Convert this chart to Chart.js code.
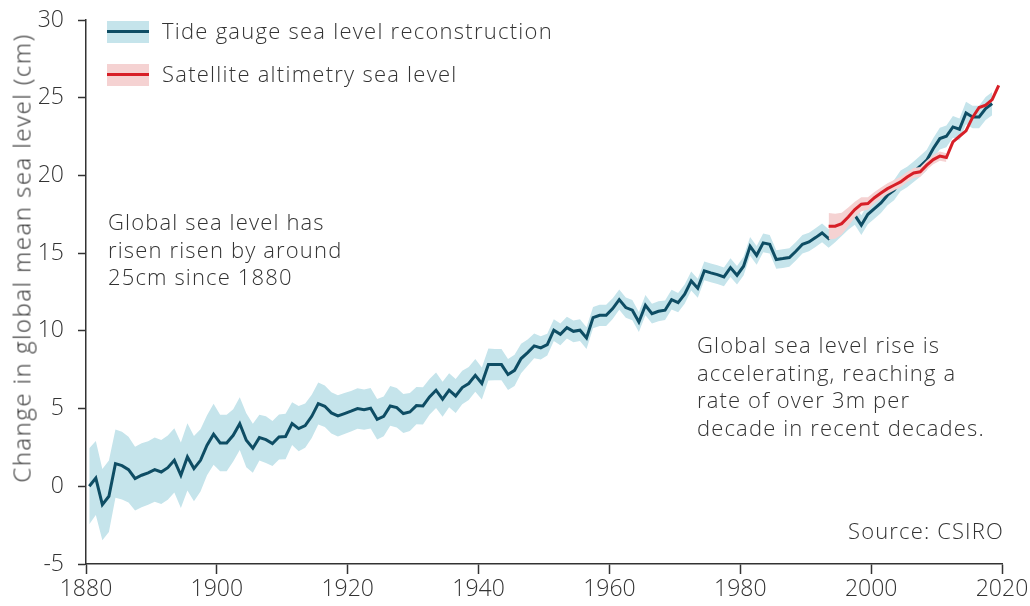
<!DOCTYPE html>
<html lang="en">
<head>
    <meta charset="UTF-8">
    <title>Global mean sea level</title>
    <script src="https://cdn.jsdelivr.net/npm/chart.js"></script>
    <style>
        body {
            margin: 0;
            background: #fff;
            font-family: "Open Sans", "Lato", sans-serif;
            font-weight: 300;
            color: #333;
        }

        #wrap {
            position: relative;
            width: 1030px;
            height: 606px;
        }

        .note {
            position: absolute;
            font-size: 22px;
            line-height: 27.5px;
            letter-spacing: 1.15px;
            white-space: nowrap;
        }

        #ytitle {
            position: absolute;
            left: 21px;
            top: 258px;
            font-size: 24px;
            letter-spacing: 1.5px;
            white-space: nowrap;
            transform: translate(-50%, -50%) rotate(-90deg);
        }

        .key {
            position: absolute;
            left: 107px;
            width: 42px;
            height: 22px;
        }

        .key span {
            position: absolute;
            left: 0;
            right: 0;
            top: 9px;
            height: 3px;
        }

        .keytext {
            position: absolute;
            left: 162px;
            font-size: 22px;
            letter-spacing: 1.25px;
            white-space: nowrap;
        }
    </style>
</head>
<body>
<div id="wrap">
    <canvas id="seaChart" width="1030" height="606"></canvas>

    <div id="ytitle">Change in global mean sea level (cm)</div>

    <div class="key" style="top:21px;background:#c5e4eb"><span style="background:#0e4d64"></span></div>
    <div class="keytext" style="top:15px">Tide gauge sea level reconstruction</div>
    <div class="key" style="top:64px;background:#f5d2d2"><span style="background:#d71f27"></span></div>
    <div class="keytext" style="top:58px">Satellite altimetry sea level</div>

    <div class="note" style="left:108px;top:208px">Global sea level has<br>risen risen by around<br>25cm since 1880</div>
    <div class="note" style="left:697px;top:331px">Global sea level rise is<br>accelerating, reaching a<br>rate of over 3m per<br>decade in recent decades.</div>
    <div class="note" style="right:26px;top:517px">Source: CSIRO</div>
</div>

<script>
    // tide gauge reconstruction, yearly from 1880.5 to 2018.5 (cm)
    const tideStart = 1880.5;
    const tideLevel = [
        0.0, 0.53, -1.18, -0.64, 1.46, 1.33, 1.07, 0.5, 0.71, 0.86,
        1.07, 0.92, 1.2, 1.67, 0.71, 1.89, 1.14, 1.67, 2.64, 3.35,
        2.79, 2.79, 3.28, 4.03, 2.96, 2.45, 3.13, 3.0, 2.75, 3.17,
        3.2, 4.03, 3.71, 3.9, 4.5, 5.32, 5.15, 4.72, 4.53, 4.68,
        4.83, 5.0, 4.93, 5.02, 4.31, 4.5, 5.17, 5.06, 4.68, 4.78,
        5.19, 5.17, 5.75, 6.18, 5.6, 6.18, 5.81, 6.35, 6.61, 7.14,
        6.61, 7.83, 7.83, 7.83, 7.19, 7.46, 8.22, 8.6, 9.03, 8.9,
        9.12, 10.04, 9.78, 10.21, 9.97, 10.04, 9.54, 10.85, 11.0, 11.0,
        11.43, 12.01, 11.5, 11.33, 10.57, 11.65, 11.11, 11.26, 11.33, 12.01,
        11.82, 12.36, 13.21, 12.74, 13.86, 13.73, 13.62, 13.47, 14.07, 13.58,
        14.16, 15.44, 14.86, 15.66, 15.57, 14.59, 14.65, 14.72, 15.12, 15.57,
        15.72, 16.0, 16.3, 15.94, 16.3, 16.7, 17.1, 17.45, 16.8, 17.5,
        17.87, 18.23, 18.73, 19.05, 19.65, 19.9, 20.23, 20.59, 20.98, 21.73,
        22.37, 22.52, 23.12, 22.97, 24.02, 23.76, 23.76, 24.3, 24.62
    ];
    // half width of the shaded uncertainty band (cm)
    const tideError = [
        2.44, 2.38, 2.3, 2.3, 2.2, 2.18, 2.12, 2.05, 2.06, 2.04,
        2.07, 2.06, 2.07, 2.07, 2.1, 2.16, 2.1, 2.0, 1.93, 1.96,
        1.82, 1.82, 1.68, 1.7, 1.74, 1.58, 1.47, 1.5, 1.45, 1.45,
        1.46, 1.38, 1.45, 1.42, 1.39, 1.35, 1.33, 1.33, 1.33, 1.32,
        1.3, 1.3, 1.3, 1.3, 1.3, 1.28, 1.28, 1.27, 1.25, 1.22,
        1.2, 1.2, 1.15, 1.14, 1.12, 1.1, 1.1, 1.08, 1.06, 1.05,
        1.03, 1.03, 1.0, 1.0, 1.0, 1.0, 0.95, 0.85, 0.8, 0.75,
        0.7, 0.7, 0.7, 0.7, 0.7, 0.7, 0.7, 0.69, 0.68, 0.68,
        0.66, 0.65, 0.65, 0.65, 0.65, 0.65, 0.64, 0.64, 0.63, 0.63,
        0.62, 0.62, 0.61, 0.61, 0.6, 0.6, 0.6, 0.6, 0.6, 0.6,
        0.6, 0.6, 0.6, 0.6, 0.6, 0.6, 0.6, 0.6, 0.6, 0.6,
        0.6, 0.6, 0.6, 0.6, 0.6, 0.6, 0.6, 0.62, 0.64, 0.64,
        0.65, 0.65, 0.65, 0.65, 0.66, 0.66, 0.66, 0.67, 0.67, 0.68,
        0.7, 0.7, 0.7, 0.7, 0.72, 0.72, 0.72, 0.74, 0.75
    ];

    // satellite altimetry, yearly from 1993.5 to 2019.5 (cm)
    const satStart = 1993.5;
    const satLevel = [
        16.73, 16.73, 16.9, 17.33, 17.8, 18.15, 18.19, 18.57, 18.87, 19.15,
        19.37, 19.58, 19.9, 20.16, 20.23, 20.66, 21.02, 21.24, 21.15, 22.16,
        22.52, 22.87, 23.73, 24.37, 24.52, 24.88, 25.8
    ];
    // band only shown up to 2011.5
    const satError = [
        0.85, 0.8, 0.7, 0.6, 0.5, 0.45, 0.4, 0.36, 0.35, 0.35,
        0.34, 0.33, 0.32, 0.32, 0.31, 0.3, 0.3, 0.3, 0.28
    ];

    const yearTicks = [1880, 1900, 1920, 1940, 1960, 1980, 2000, 2020];
    const levelTicks = [-5, 0, 5, 10, 15, 20, 25, 30];

    const tideLine = tideLevel.map((v, i) => ({x: tideStart + i, y: v}));
    const tideHigh = tideLevel.map((v, i) => ({x: tideStart + i, y: v + tideError[i]}));
    const tideLow = tideLevel.map((v, i) => ({x: tideStart + i, y: v - tideError[i]}));
    const satLine = satLevel.map((v, i) => ({x: satStart + i, y: v}));
    const satHigh = satError.map((e, i) => ({x: satStart + i, y: satLevel[i] + e}));
    const satLow = satError.map((e, i) => ({x: satStart + i, y: satLevel[i] - e}));

    const textColor = '#333';
    const tickFont = {family: 'Open Sans', size: 23, weight: '300'};
    const band = {pointRadius: 0, borderWidth: 0, tension: 0};

    new Chart(document.getElementById('seaChart'), {
        type: 'line',
        data: {
            datasets: [
                Object.assign({data: tideHigh, fill: '+1', backgroundColor: '#c5e4eb', order: 4}, band),
                Object.assign({data: tideLow, fill: false, order: 4}, band),
                {data: tideLine, borderColor: '#0e4d64', borderWidth: 3, pointRadius: 0, fill: false, order: 3},
                Object.assign({data: satHigh, fill: '+1', backgroundColor: '#f5d2d2', order: 2}, band),
                Object.assign({data: satLow, fill: false, order: 2}, band),
                {data: satLine, borderColor: '#d71f27', borderWidth: 3, pointRadius: 0, fill: false, order: 1}
            ]
        },
        options: {
            responsive: false,
            animation: false,
            layout: {padding: {top: 20, right: 28, left: 0, bottom: 0}},
            plugins: {legend: {display: false}, tooltip: {enabled: false}},
            scales: {
                x: {
                    type: 'linear',
                    min: 1880,
                    max: 2020,
                    afterBuildTicks: s => { s.ticks = yearTicks.map(v => ({value: v})); },
                    afterFit: s => { s.height = 42; s.paddingLeft = 0; s.paddingRight = 0; },
                    grid: {drawOnChartArea: false, tickLength: 10, color: textColor, tickWidth: 1.5},
                    border: {color: textColor, width: 1.5},
                    ticks: {
                        color: textColor, padding: 2,
                        font: tickFont,
                        callback: v => String(v)
                    }
                },
                y: {
                    min: -5,
                    max: 30,
                    afterBuildTicks: s => { s.ticks = levelTicks.map(v => ({value: v})); },
                    afterFit: s => { s.width = 86; s.paddingTop = 0; s.paddingBottom = 0; },
                    grid: {drawOnChartArea: false, tickLength: 8, color: textColor, tickWidth: 1.5},
                    border: {color: textColor, width: 1.5},
                    ticks: {
                        color: textColor, padding: 14,
                        font: tickFont
                    }
                }
            }
        }
    });
</script>
</body>
</html>
